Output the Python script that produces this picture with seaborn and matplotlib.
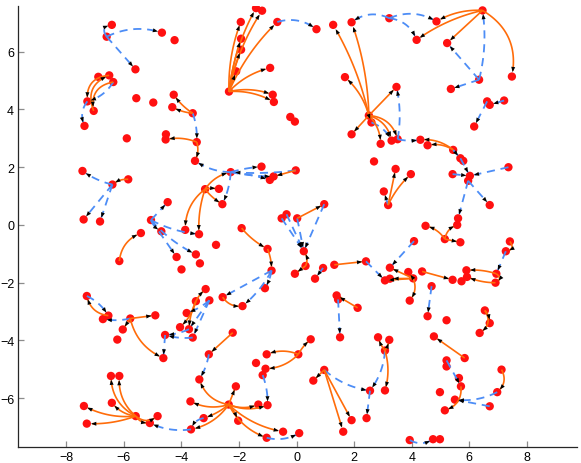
import numpy as np
import matplotlib
matplotlib.use('Agg')
import matplotlib.pyplot as plt
from matplotlib.patches import FancyArrowPatch
import seaborn as sns

sns.set_style('ticks')
plt.rcParams['font.family'] = ['Liberation Sans', 'DejaVu Sans']

# node positions
node_x = [-6.42, -6.60, -4.68, -4.24, -5.60, -6.51, -6.37, -6.89, -7.27, -7.05,
          -7.37, -5.57, -4.98, -4.27, -4.32, -3.61, -5.90, -4.54, -4.55, -3.47,
          -3.53, -2.29, -1.22, -0.93, -0.80, -0.03, -3.18, -2.70, -2.58, -3.87,
          -3.39, -7.44, -6.40, -5.85, -7.40, -6.83, -4.48, -5.06, -5.41, -4.70,
          -4.17, -3.50, -3.36, -4.00, -2.80, -6.16, -1.91, -1.01, -0.87, -1.10,
          -2.57, -1.88, -3.16, -3.03, -3.50, -3.82, -4.05, -3.74, -3.61, -4.57,
          -4.63, -2.22, -3.05, -3.38, -2.11, -2.36, -3.69, -3.23, -3.67, -2.03,
          -1.33, -1.01, -1.04, -0.47, -1.41, -1.04, -1.08, -1.18, 0.06, -5.10,
          0.49, -4.83, -5.59, -6.45, -6.16, -7.39, -6.42, -7.29, -7.29, -6.54,
          -6.73, -5.78, -4.91, -6.04, -6.23, -0.22, -0.06, -2.35, -1.41, -1.20,
          -1.94, -0.67, -1.93, -1.93, -2.10, -0.92, -0.83, -0.79, 0.69, 1.27,
          1.91, 3.22, 1.68, 3.47, 2.51, 2.60, 1.91, 2.92, 3.30, 3.51,
          4.17, 4.86, 6.46, 5.23, 7.48, 6.34, 5.36, 6.62, 6.71, 7.21,
          6.17, 4.30, 4.55, 5.44, 5.69, 5.79, 5.42, 6.02, 5.96, 7.36,
          6.71, 5.61, 5.58, 4.48, 2.69, -0.52, -0.35, 0.02, 0.96, 0.25,
          0.31, -0.06, 0.92, 0.64, 1.31, 2.41, 1.39, 1.44, 2.12, 1.51,
          3.24, 3.07, 3.24, 4.05, 3.88, 3.93, 4.08, 4.36, 5.42, 4.69,
          5.73, 4.55, 5.21, 4.77, 5.84, 5.90, 5.92, 6.94, 6.91, 7.41,
          7.27, 6.54, 6.71, 6.36, 5.21, 5.21, 5.64, 5.71, 4.98, 5.50,
          5.15, 7.12, 6.97, 6.71, 2.83, 3.22, 3.07, 3.07, 2.55, 2.43,
          0.96, 0.58, 1.91, 1.62, 0.09, 3.93, 4.74, 4.98, 3.44, 3.97,
          3.18, 3.03, 5.15, 5.69]
node_y = [6.93, 6.52, 6.66, 6.40, 5.39, 5.18, 4.95, 5.13, 4.28, 3.95,
          3.43, 4.39, 4.24, 4.51, 4.08, 3.87, 3.00, 3.14, 2.96, 2.87,
          2.22, 1.83, 2.02, 1.56, 1.68, 1.89, 1.24, 1.25, 0.72, -0.17,
          -0.32, 1.87, 1.40, 1.58, 0.19, 0.12, 0.79, 0.17, -0.28, -0.22,
          -1.11, -1.02, -1.33, -1.54, -0.69, -1.25, -0.11, -0.83, -1.58, -2.19,
          -2.50, -2.81, -2.22, -2.61, -2.64, -3.05, -3.54, -3.61, -3.90, -3.81,
          -4.61, -3.73, -4.48, -5.35, -5.59, -6.22, -6.11, -6.69, -7.08, -6.78,
          -6.22, -6.24, -7.37, -7.16, -4.78, -4.48, -4.98, -5.20, -4.48, -6.86,
          -3.96, -6.62, -6.62, -5.23, -5.23, -6.27, -6.16, -6.88, -2.46, -3.14,
          -3.26, -3.24, -3.13, -3.62, -3.97, 3.74, 3.58, 4.62, 7.51, 7.42,
          7.03, 7.03, 6.45, 6.07, 5.32, 5.44, 4.51, 4.26, 6.78, 6.93,
          7.02, 7.16, 5.12, 4.78, 3.79, 3.55, 3.14, 2.81, 2.92, 2.97,
          6.41, 7.05, 7.43, 6.30, 5.14, 5.03, 4.71, 4.28, 4.16, 4.31,
          3.41, 2.95, 2.76, 2.60, 2.31, 2.22, 1.76, 1.70, 1.53, 2.00,
          0.69, 0.23, 0.00, -0.03, 2.20, 0.23, 0.37, 0.23, 0.72, -0.91,
          -1.42, -1.69, -1.49, -1.86, -1.38, -1.26, -2.44, -2.58, -2.87, -3.89,
          -1.48, -1.92, -1.86, -1.85, -1.63, -2.62, -0.56, -1.61, -1.90, -2.12,
          -1.95, -3.16, -3.30, -3.86, -4.61, -1.57, -1.80, -1.69, -2.00, -0.57,
          -0.91, -2.96, -3.40, -3.74, -4.69, -4.90, -5.30, -5.59, -5.79, -6.05,
          -6.42, -5.01, -5.79, -6.28, -3.89, -3.98, -4.35, -5.73, -5.74, -6.69,
          -5.02, -5.39, -6.76, -7.16, -7.21, -7.45, -7.42, -7.42, 1.94, 1.76,
          0.69, 1.16, -0.49, -0.60]

# directed links (source index, target index)
solid_edges = [(5, 8), (6, 9), (9, 5), (15, 13), (15, 14), (19, 18), (19, 20),
               (26, 21), (26, 27), (26, 28), (26, 29), (26, 30), (33, 32), (45, 38),
               (46, 47), (47, 48), (50, 51), (54, 52), (54, 56), (54, 57), (61, 62),
               (65, 63), (65, 64), (65, 66), (65, 67), (65, 68), (65, 69), (65, 70),
               (65, 71), (65, 72), (65, 73), (78, 80), (78, 75), (78, 76),
               (82, 83), (82, 84), (82, 86), (82, 85), (82, 87), (82, 81), (82, 79),
               (89, 88), (91, 92), (91, 93), (91, 60),
               (97, 98), (97, 99), (97, 100), (97, 101), (97, 102), (97, 103),
               (97, 104), (97, 105), (97, 106), (97, 107),
               (114, 109), (114, 110), (114, 112), (114, 113), (114, 115),
               (114, 116), (114, 117), (114, 118), (114, 119),
               (122, 121), (122, 120), (122, 123), (122, 124), (133, 131), (133, 132),
               (147, 148), (150, 149), (150, 151), (154, 155), (158, 156),
               (163, 160), (163, 161), (163, 162), (163, 164), (163, 165),
               (167, 168), (174, 173), (177, 175), (178, 176), (177, 178), (179, 180),
               (181, 183), (181, 182), (187, 190), (191, 192),
               (196, 194), (196, 195), (196, 197), (200, 201), (200, 202), (200, 203),
               (210, 208), (210, 209), (212, 143), (212, 142), (212, 213), (25, 24)]

dashed_edges = [(1, 2), (1, 0), (1, 4), (6, 8), (8, 10), (15, 19), (21, 20), (21, 22),
                (21, 23), (21, 24), (25, 21), (21, 28), (32, 31), (32, 34), (32, 35),
                (37, 36), (37, 39), (37, 40), (37, 41), (37, 30), (48, 49), (48, 50),
                (48, 51), (53, 55), (53, 57), (53, 58), (57, 59), (58, 59), (59, 60),
                (62, 63), (67, 68), (68, 79), (77, 71), (72, 204), (88, 89), (91, 90),
                (101, 108), (111, 110), (111, 121), (111, 120), (119, 113), (115, 118),
                (119, 131), (125, 123), (125, 122), (125, 126), (129, 128), (127, 130),
                (133, 134), (134, 137), (136, 137), (139, 137), (138, 140), (138, 141),
                (145, 149), (146, 149), (147, 149), (148, 149), (152, 153), (155, 161),
                (166, 160), (157, 159), (169, 171), (180, 177), (184, 187), (192, 189),
                (193, 189), (196, 198), (198, 199), (200, 198), (205, 206), (210, 211)]

# curvature of the drawn links (0 = straight)
solid_bend = {(5, 8): -0.5, (6, 9): -0.5, (9, 5): 0.5, (15, 13): 0.1, (15, 14): 0.1,
              (19, 18): -0.15, (19, 20): 0.2, (26, 21): 0.2, (26, 27): 0.1, (26, 28): -0.1,
              (26, 29): -0.25, (26, 30): -0.1, (33, 32): -0.2, (45, 38): 0.3, (46, 47): -0.1,
              (47, 48): 0.1, (50, 51): -0.3, (54, 52): 0.1, (54, 56): 0.15, (54, 57): -0.1,
              (65, 63): 0.3, (65, 66): 0.2, (65, 67): 0.1, (65, 68): 0.2, (65, 69): 0.1,
              (65, 70): -0.2, (65, 71): -0.2, (65, 72): -0.2, (65, 73): -0.15,
              (78, 80): 0.1, (78, 75): -0.2, (78, 76): 0.2, (82, 83): 0.3, (82, 84): 0.25,
              (82, 86): 0.2, (82, 85): 0.15, (82, 87): 0.1, (82, 81): -0.4, (82, 79): -0.3,
              (89, 88): 0.35, (91, 60): -0.25, (97, 98): 0.1, (97, 99): 0.1, (97, 100): 0.1,
              (97, 101): 0.1, (97, 102): 0.05, (97, 103): 0.05, (97, 105): 0.15,
              (97, 106): 0.15, (97, 107): 0.15, (114, 109): -0.08, (114, 110): -0.08,
              (114, 112): -0.15, (114, 117): 0.2, (114, 118): 0.3, (114, 119): 0.35,
              (122, 121): -0.15, (122, 120): -0.1, (122, 124): 0.35, (133, 131): -0.2,
              (133, 132): -0.2, (150, 149): -0.3, (163, 165): 0.3, (177, 175): -0.1,
              (178, 176): 0.1, (177, 178): 0.8, (179, 180): 0.8, (181, 183): 0.5,
              (181, 182): 0.2, (187, 190): 0.4, (191, 192): 0.4, (196, 197): 0.15,
              (196, 194): 0.1, (196, 195): -0.1, (210, 209): 0.1, (212, 143): -0.2,
              (212, 142): 0.3}
dashed_bend = {(1, 2): 0.2, (1, 0): 0.8, (6, 8): 0.2, (8, 10): -0.3, (15, 19): 0.1,
               (21, 20): 0.15, (21, 22): 0.05, (21, 23): 0.05, (21, 24): -0.05,
               (25, 21): 0.05, (21, 28): 0.1, (32, 31): 0.1, (37, 39): -0.2,
               (37, 41): -0.1, (37, 30): -0.1, (48, 49): 0.1, (48, 51): 0.1,
               (53, 55): 0.1, (57, 59): 0.1, (58, 59): 0.1, (62, 63): 0.1,
               (67, 68): -0.3, (68, 79): 0.15, (77, 71): 0.1, (72, 204): -0.2,
               (88, 89): 0.15, (91, 90): 0.1, (101, 108): 0.25, (111, 110): -0.3,
               (111, 121): 0.25, (111, 120): 0.3, (119, 113): -0.1, (115, 118): 0.2,
               (119, 131): -0.1, (125, 122): -0.1, (192, 189): 0.15, (196, 198): 0.15,
               (200, 198): -0.15, (205, 206): -0.3}

ORANGE = '#ff6c0a'
BLUE = '#4d8df6'


def curve(p0, p2, rad, n=60):
    d = p2 - p0
    c = (p0 + p2) / 2 + rad * np.array([-d[1], d[0]])
    t = np.linspace(0, 1, n)[:, None]
    return (1 - t) ** 2 * p0 + 2 * (1 - t) * t * c + t ** 2 * p2


def draw_edge(ax, s, t, rad, color, ls, lw):
    p0 = np.array([node_x[s], node_y[s]])
    p2 = np.array([node_x[t], node_y[t]])
    pts = curve(p0, p2, rad)
    dist = np.hypot(pts[:, 0] - p2[0], pts[:, 1] - p2[1])
    pts = pts[dist >= 0.12]
    if len(pts) < 4:
        return
    ax.plot(pts[:-1, 0], pts[:-1, 1], color=color, ls=ls, lw=lw, zorder=2,
            solid_capstyle='butt', dash_capstyle='butt')
    tip = pts[-1]
    v = pts[-1] - pts[-4]
    v = v / np.hypot(*v)
    head = FancyArrowPatch(tip - 0.03 * v, tip,
                           arrowstyle='-|>,head_length=0.42,head_width=0.16',
                           mutation_scale=9, color='black', lw=0,
                           shrinkA=0, shrinkB=0, zorder=4)
    ax.add_patch(head)


fig = plt.figure(figsize=(5.81, 4.64), dpi=100)
ax = fig.add_axes([0.0315, 0.0351, 0.961, 0.949])

sns.scatterplot(x=node_x, y=node_y, color='#ff1010', s=36, edgecolor='none',
                ax=ax, zorder=1.5, legend=False)

for s, t in dashed_edges:
    draw_edge(ax, s, t, dashed_bend.get((s, t), 0.0), BLUE, (0, (4.5, 3.2)), 1.3)
for s, t in solid_edges:
    draw_edge(ax, s, t, solid_bend.get((s, t), 0.0), ORANGE, '-', 1.2)

ax.set_xlim(-9.67, 9.73)
ax.set_ylim(-7.68, 7.57)
ax.set_xticks(np.arange(-8, 9, 2))
ax.set_yticks(np.arange(-6, 7, 2))
ax.tick_params(direction='in', length=4.5, width=0.9, color='#8c8c8c',
               labelsize=9, labelcolor='black', pad=3)
sns.despine(ax=ax)
for side in ['left', 'bottom']:
    ax.spines[side].set_color('#262626')
    ax.spines[side].set_linewidth(0.9)

fig.savefig('out.png', dpi=100)
